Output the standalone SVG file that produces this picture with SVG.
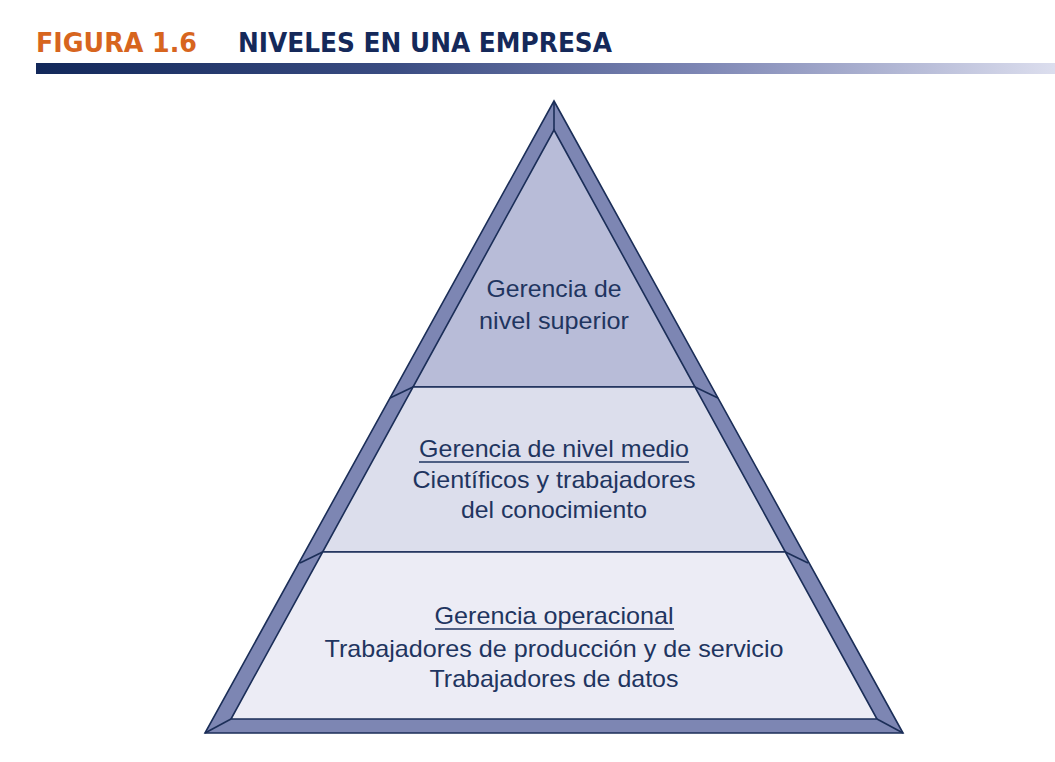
<svg xmlns="http://www.w3.org/2000/svg" width="1055" height="762" viewBox="0 0 1055 762">
<defs>
<linearGradient id="bar" x1="36" y1="0" x2="1055" y2="0" gradientUnits="userSpaceOnUse">
<stop offset="0" stop-color="#12285a"/>
<stop offset="0.35" stop-color="#3a4c82"/>
<stop offset="0.65" stop-color="#7d86b4"/>
<stop offset="1" stop-color="#dcdeee"/>
</linearGradient>
<style>
.hdr{font-family:"DejaVu Sans Condensed","DejaVu Sans",sans-serif;font-weight:bold;font-stretch:condensed;font-size:27px}
.edge{stroke:#1b2e58;stroke-width:1.6;stroke-linejoin:miter}
.frame{fill:#7d86b3}
.lbl{font-family:'Liberation Sans',Arial,Helvetica,sans-serif;font-size:24px;fill:#1f3560;text-anchor:middle}
.ul{stroke:#1f3560;stroke-width:1.4}
</style>
</defs>
<rect width="1055" height="762" fill="#ffffff"/>
<g id="header">
<text class="hdr" x="36" y="52" fill="#d7651e" textLength="161" lengthAdjust="spacingAndGlyphs">FIGURA 1.6</text>
<text class="hdr" x="238" y="52" fill="#15295a" textLength="374" lengthAdjust="spacingAndGlyphs">NIVELES EN UNA EMPRESA</text>
<rect x="36" y="63" width="1019" height="11" fill="url(#bar)"/>
</g>
<g id="frame">
<polygon class="frame edge" points="554,101 903,733 205,733"/>
</g>
<g id="level-top">
<polygon class="edge" fill="#b8bcd8" points="554,130 695,387 413,387"/>
<text class="lbl" x="554" y="297" textLength="135" lengthAdjust="spacingAndGlyphs">Gerencia de</text>
<text class="lbl" x="554" y="329" textLength="150" lengthAdjust="spacingAndGlyphs">nivel superior</text>
</g>
<g id="level-middle">
<polygon class="edge" fill="#dcdeec" points="413,387 695,387 785.4,552 322.6,552"/>
<text class="lbl" x="554" y="457" textLength="270" lengthAdjust="spacingAndGlyphs">Gerencia de nivel medio</text>
<line class="ul" x1="419" y1="462" x2="689" y2="462"/>
<text class="lbl" x="554" y="488" textLength="283" lengthAdjust="spacingAndGlyphs">Científicos y trabajadores</text>
<text class="lbl" x="554" y="518" textLength="186" lengthAdjust="spacingAndGlyphs">del conocimiento</text>
</g>
<g id="level-bottom">
<polygon class="edge" fill="#ececf5" points="322.6,552 785.4,552 877,719 231,719"/>
<text class="lbl" x="554" y="624" textLength="239" lengthAdjust="spacingAndGlyphs">Gerencia operacional</text>
<line class="ul" x1="435" y1="629" x2="674" y2="629"/>
<text class="lbl" x="554" y="657" textLength="459" lengthAdjust="spacingAndGlyphs">Trabajadores de producción y de servicio</text>
<text class="lbl" x="554" y="687" textLength="249" lengthAdjust="spacingAndGlyphs">Trabajadores de datos</text>
</g>
<g id="connectors" fill="none">
<line class="edge" x1="554" y1="101" x2="554" y2="130"/>
<line class="edge" x1="205" y1="733" x2="231" y2="719"/>
<line class="edge" x1="903" y1="733" x2="877" y2="719"/>
<line class="edge" x1="413" y1="387" x2="390" y2="398"/>
<line class="edge" x1="695" y1="387" x2="718" y2="398"/>
<line class="edge" x1="322.6" y1="552" x2="300" y2="563"/>
<line class="edge" x1="785.4" y1="552" x2="808" y2="563"/>
</g>
</svg>
